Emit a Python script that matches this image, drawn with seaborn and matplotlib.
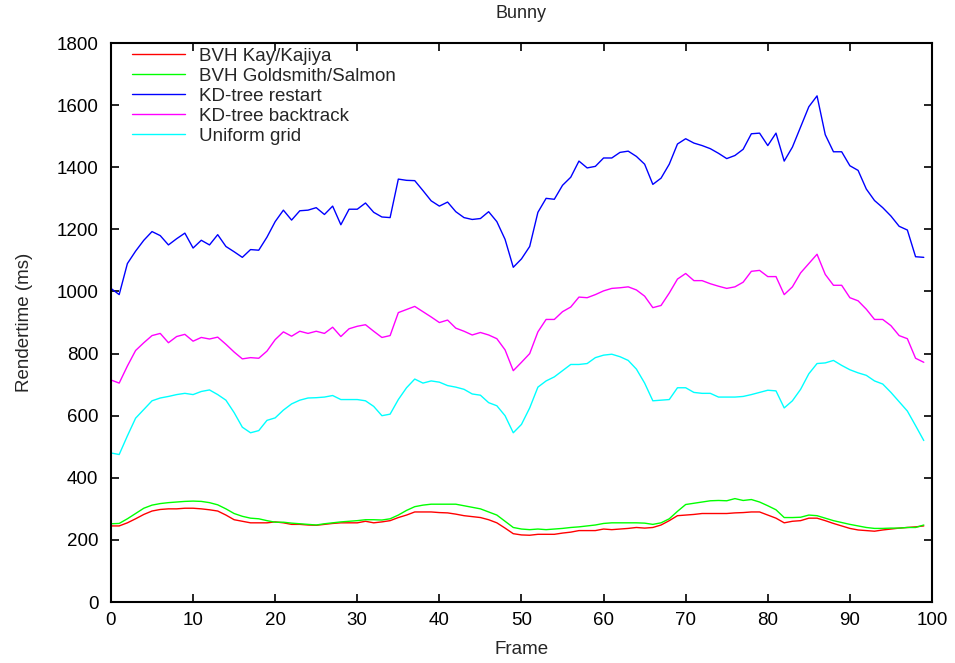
import pandas as pd
import matplotlib
matplotlib.use("Agg")
import matplotlib.pyplot as plt
import seaborn as sns

# Render times per frame (ms)
frames = list(range(100))

kay_kajiya = [245, 245, 255, 268, 282, 293, 298, 300, 300, 302,
              302, 300, 297, 293, 280, 265, 260, 255, 255, 255,
              258, 255, 250, 250, 248, 247, 250, 253, 255, 255,
              255, 260, 255, 258, 262, 272, 280, 290, 290, 290,
              288, 287, 283, 278, 275, 272, 265, 255, 238, 220,
              216, 215, 218, 218, 218, 222, 225, 230, 230, 230,
              235, 233, 235, 237, 240, 238, 240, 248, 262, 278,
              280, 282, 285, 285, 285, 285, 287, 288, 290, 290,
              280, 270, 255, 260, 262, 270, 270, 262, 253, 245,
              237, 232, 230, 228, 232, 235, 238, 240, 242, 245]

goldsmith_salmon = [252, 253, 268, 285, 302, 312, 317, 320, 322, 324,
                    325, 324, 320, 313, 300, 285, 276, 270, 268, 262,
                    257, 257, 254, 252, 250, 248, 252, 255, 258, 260,
                    262, 265, 265, 264, 268, 280, 295, 307, 312, 315,
                    315, 315, 315, 310, 305, 300, 290, 280, 260, 240,
                    235, 233, 235, 233, 235, 237, 240, 242, 245, 248,
                    253, 255, 255, 255, 255, 254, 250, 255, 268, 292,
                    314, 318, 322, 326, 327, 326, 333, 327, 330, 322,
                    310, 297, 272, 272, 273, 280, 278, 270, 262, 256,
                    250, 245, 240, 237, 237, 238, 238, 240, 240, 248]

kd_restart = [1010, 990, 1090, 1130, 1165, 1193, 1180, 1150, 1170, 1188,
              1140, 1165, 1150, 1183, 1145, 1128, 1110, 1135, 1133, 1175,
              1225, 1262, 1230, 1260, 1262, 1270, 1248, 1275, 1215, 1265,
              1265, 1285, 1255, 1240, 1238, 1362, 1358, 1357, 1325, 1292,
              1275, 1288, 1257, 1238, 1232, 1235, 1257, 1225, 1168, 1078,
              1105, 1145, 1255, 1300, 1297, 1342, 1368, 1420, 1398, 1403,
              1430, 1430, 1448, 1452, 1435, 1410, 1345, 1365, 1410, 1475,
              1492, 1478, 1470, 1460, 1445, 1428, 1438, 1458, 1508, 1510,
              1470, 1510, 1420, 1465, 1530, 1595, 1630, 1505, 1450, 1450,
              1405, 1390, 1330, 1293, 1270, 1243, 1210, 1198, 1112, 1110]

kd_backtrack = [715, 705, 760, 810, 835, 858, 865, 835, 855, 862,
                840, 852, 847, 853, 830, 805, 783, 787, 785, 808,
                845, 870, 856, 872, 865, 872, 865, 885, 855, 880,
                888, 893, 872, 852, 858, 932, 942, 952, 935, 918,
                900, 908, 882, 872, 860, 868, 860, 848, 812, 745,
                772, 800, 870, 910, 910, 935, 950, 982, 980, 990,
                1002, 1010, 1012, 1015, 1005, 985, 948, 955, 995, 1040,
                1058, 1035, 1035, 1025, 1017, 1010, 1015, 1030, 1065, 1068,
                1048, 1048, 990, 1015, 1060, 1090, 1120, 1055, 1020, 1020,
                980, 970, 943, 910, 910, 890, 858, 848, 785, 772]

uniform_grid = [480, 475, 535, 592, 620, 648, 657, 662, 668, 672,
                668, 678, 683, 668, 650, 610, 563, 545, 552, 585,
                593, 618, 638, 650, 657, 658, 660, 665, 652, 652,
                652, 648, 630, 600, 605, 652, 690, 718, 705, 712,
                708, 697, 692, 685, 670, 666, 642, 632, 600, 545,
                572, 625, 692, 712, 725, 745, 765, 765, 768, 787,
                795, 798, 790, 778, 750, 705, 648, 650, 652, 690,
                690, 675, 672, 672, 660, 660, 660, 662, 668, 675,
                682, 680, 625, 648, 685, 735, 768, 770, 778, 762,
                748, 738, 730, 712, 702, 675, 645, 615, 568, 520]

series_names = ["BVH Kay/Kajiya", "BVH Goldsmith/Salmon", "KD-tree restart",
                "KD-tree backtrack", "Uniform grid"]
series_values = [kay_kajiya, goldsmith_salmon, kd_restart, kd_backtrack, uniform_grid]
colors = ["#ff0000", "#00ff00", "#0000ff", "#ff00ff", "#00ffff"]

df = pd.concat(
    [pd.DataFrame({"Frame": frames, "Rendertime": vals, "Method": name})
     for name, vals in zip(series_names, series_values)],
    ignore_index=True,
)

sns.set_style("ticks")
plt.rcParams["font.family"] = ["Liberation Sans", "DejaVu Sans"]

fs = 13.5

fig = plt.figure(figsize=(9.55, 6.63), dpi=100)
ax = fig.add_axes([0.1162, 0.092, 0.8597, 0.843])

sns.lineplot(data=df, x="Frame", y="Rendertime", hue="Method",
             palette=dict(zip(series_names, colors)), linewidth=1.0, ax=ax)

ax.set_xlim(0, 100)
ax.set_ylim(0, 1800)
ax.set_xticks(range(0, 101, 10))
ax.set_yticks(range(0, 1801, 200))
ax.tick_params(direction="in", length=6, width=1.2, top=True, right=True,
               labelsize=fs, colors="black")
ax.tick_params(axis="x", pad=7)
ax.tick_params(axis="y", pad=9)
for s in ax.spines.values():
    s.set_visible(True)
    s.set_linewidth(1.5)
    s.set_color("black")

ax.set_title("Bunny", fontsize=13, pad=18)
ax.set_xlabel("Frame", fontsize=fs, labelpad=9)
ax.set_ylabel("Rendertime (ms)", fontsize=fs, labelpad=17)

ax.legend(loc="upper left", frameon=False, fontsize=fs, handlelength=2.8,
          handletextpad=0.75, labelspacing=0.15, borderaxespad=0.0,
          bbox_to_anchor=(0.017, 1.005))

fig.savefig("out.png", dpi=100)
